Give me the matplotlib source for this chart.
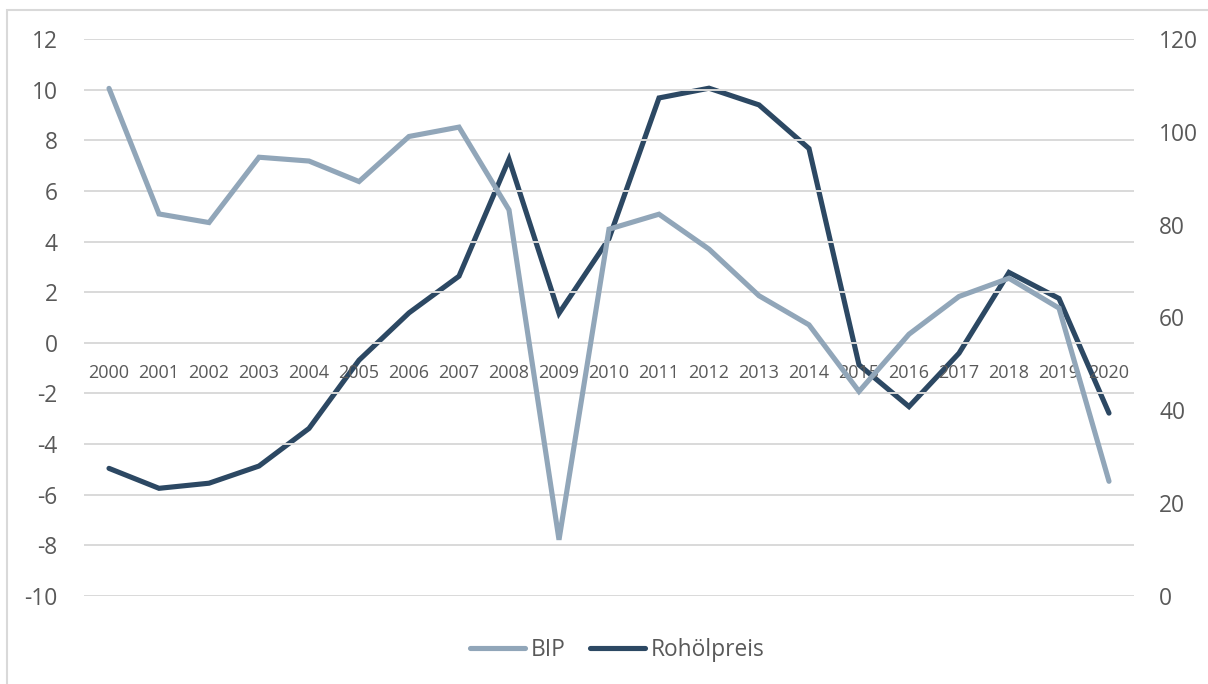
import matplotlib
matplotlib.use("Agg")
import matplotlib.pyplot as plt
from matplotlib.patches import Rectangle
import numpy as np

plt.rcParams["font.family"] = ["Open Sans", "DejaVu Sans"]

# ── data ──────────────────────────────────────────────────────────────────────
years = [str(y) for y in range(2000, 2021)]
bip = [10.05, 5.09, 4.75, 7.33, 7.18, 6.37, 8.15, 8.52, 5.25, -7.78, 4.49,
       5.08, 3.70, 1.86, 0.71, -1.92, 0.34, 1.83, 2.55, 1.37, -5.47]
oil = [27.5, 23.2, 24.3, 28.0, 36.1, 50.8, 61.0, 68.9, 94.1, 60.9, 77.0,
       107.3, 109.4, 105.8, 96.4, 49.8, 40.8, 52.3, 69.7, 64.1, 39.4]

left_ticks = list(range(-10, 13, 2))
right_ticks = list(range(0, 121, 20))

C_BIP = "#91A6B9"
C_OIL = "#2C4863"
C_TXT = "#595959"
C_GRID = "#D9D9D9"

W, H = 1208, 684
fig = plt.figure(figsize=(W / 100, H / 100), dpi=100)
ax = fig.add_axes([84 / W, 1 - 596 / H, (1134 - 84) / W, (596 - 39) / H])
ax2 = ax.twinx()

x = np.arange(len(years))

# gridlines
for t in left_ticks:
    ax.axhline(t, color=C_GRID, lw=1.4, zorder=0)

ax.plot(x, bip, color=C_BIP, lw=3.7, solid_capstyle="round",
        solid_joinstyle="miter", label="BIP", zorder=3)
ax2.plot(x, oil, color=C_OIL, lw=3.7, solid_capstyle="round",
         solid_joinstyle="miter", label="Rohölpreis", zorder=3)

ax.set_xlim(-0.5, len(years) - 0.5)
ax.set_ylim(-10, 12)
ax2.set_ylim(0, 120)

ax.set_yticks(left_ticks)
ax.set_yticklabels([str(t) for t in left_ticks])
ax2.set_yticks(right_ticks)
ax2.set_yticklabels([str(t) for t in right_ticks])

# category labels sit on the zero line
ax.spines["bottom"].set_position(("data", 0))
ax.set_xticks(x)
ax.set_xticklabels(years, fontsize=13, color=C_TXT)
ax.tick_params(axis="x", length=0, pad=15)
ax.tick_params(axis="y", length=0, pad=19, labelsize=16.4, labelcolor=C_TXT)
ax2.tick_params(axis="y", length=0, pad=18, labelsize=16.4, labelcolor=C_TXT)

for a in (ax, ax2):
    for s in a.spines.values():
        s.set_visible(False)
ax.set_zorder(ax2.get_zorder() + 1)
ax.patch.set_visible(False)

# legend
h1, l1 = ax.get_legend_handles_labels()
h2, l2 = ax2.get_legend_handles_labels()
fig.legend(h1 + h2, l1 + l2, loc="center", bbox_to_anchor=(0.511, 1 - 650 / H),
           ncol=2, frameon=False, fontsize=16.4, labelcolor=C_TXT,
           handlelength=2.4, handletextpad=0.25, columnspacing=1.1)

# light frame (top and left edges visible in the crop)
fig.patches.append(Rectangle((7 / W, -0.5), 2, 1.5 - 10 / H,
                             transform=fig.transFigure, fill=False,
                             edgecolor=C_GRID, lw=1.5))

fig.savefig("out.png", dpi=100)
